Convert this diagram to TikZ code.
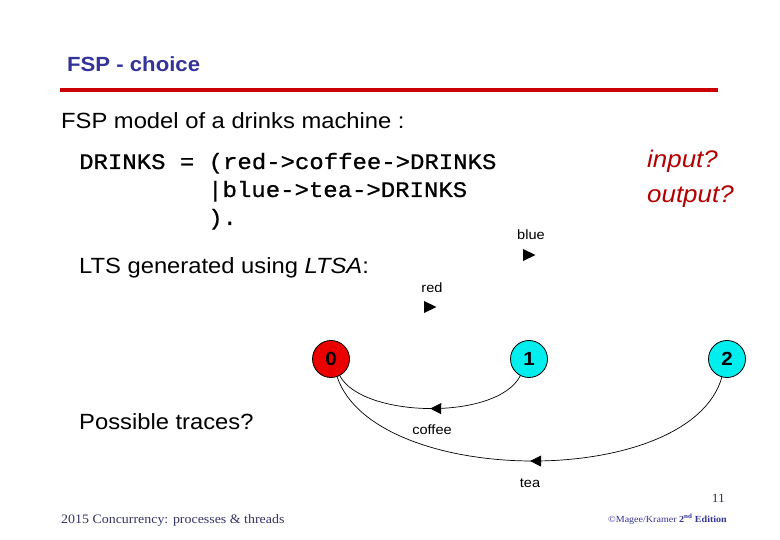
\documentclass[tikz,border=0pt]{standalone}
\usepackage{fontspec}
\setmainfont{Liberation Sans}[FakeStretch=1.08]
\newfontfamily\codefont{Liberation Mono}[FakeStretch=1.08,FakeBold=0.8]
\newfontfamily\timesfont{Liberation Serif}[FakeStretch=1.08]
\usetikzlibrary{arrows.meta,decorations.markings}
\definecolor{titleblue}{RGB}{51,51,153}
\definecolor{rulered}{RGB}{204,0,0}
\definecolor{qred}{RGB}{180,0,0}
\definecolor{footnavy}{RGB}{51,51,102}
\definecolor{nodered}{RGB}{235,0,0}
\definecolor{nodecyan}{RGB}{0,238,238}
\begin{document}
\begin{tikzpicture}[x=1pt,y=-1pt,
  txt/.style={inner sep=0pt,anchor=base west,font=\fontsize{22}{26}\selectfont},
  code/.style={inner sep=0pt,anchor=base west,font=\codefont\fontsize{22.2}{26}\selectfont},
  small/.style={inner sep=0pt,anchor=base,font=\fontsize{13.5}{16}\selectfont},
  state/.style={circle,draw=black,line width=0.8pt,minimum size=37pt,inner sep=0pt,font=\bfseries\fontsize{19}{22}\selectfont},
  trans/.style={line width=0.7pt,postaction={decorate},decoration={markings,mark=at position 0.5 with {\arrow{Triangle[length=11pt,width=11pt]}}}},
  tip/.style={fill=black}]
\useasboundingbox (0,0) rectangle (780,540);
\fill[white] (0,0) rectangle (780,540);

% title and rule
\node[inner sep=0pt,anchor=base west,font=\bfseries\fontsize{20.5}{24}\selectfont,text=titleblue] (title) at (67,71.5) {FSP - choice};
\draw[rulered,line width=4pt] (60,90) -- (718,90);

\node[txt] (intro) at (61,129) {FSP model of a drinks machine :};

% FSP code
\node[code] (c1) at (79,169) {DRINKS = (red->coffee->DRINKS};
\node[code] (c2) at (208,197) {|blue->tea->DRINKS};
\node[code] (c3) at (208,225) {).};

\node[inner sep=0pt,anchor=base west,font=\itshape\fontsize{24}{28}\selectfont,text=qred] (qin) at (647,168) {input?};
\node[inner sep=0pt,anchor=base west,font=\itshape\fontsize{24}{28}\selectfont,text=qred] (qout) at (647,203) {output?};

\node[txt] (lts) at (79,274) {LTS generated using \textit{LTSA}:};
\node[txt] (traces) at (79,429) {Possible traces?};

% LTS
\node[state,fill=nodered] (s0) at (331,359) {0};
\node[state,fill=nodecyan] (s1) at (529,359) {1};
\node[state,fill=nodecyan] (s2) at (727,359) {2};

\node[small] (lblue) at (531,240) {blue};
\fill[tip] (523,249) -- (535.5,255) -- (523,261) -- cycle;
\node[small] (lred) at (432,293) {red};
\fill[tip] (424,301) -- (436.5,307) -- (424,313) -- cycle;

\draw[trans] (s1) .. controls (497,421) and (362,418) .. (s0);
\draw[trans] (s2) .. controls (690,490) and (375,488) .. (s0);
\node[small] (lcoffee) at (432,435) {coffee};
\node[small] (ltea) at (530,487) {tea};

% footer
\node[inner sep=0pt,anchor=base east,font=\timesfont\fontsize{12.5}{15}\selectfont,text=footnavy] (page) at (725,502) {11};
\node[inner sep=0pt,anchor=base west,font=\timesfont\fontsize{12.9}{15}\selectfont,text=footnavy] (foot) at (61,523) {2015 Concurrency: processes \& threads};
\node[inner sep=0pt,anchor=base west,font=\timesfont\fontsize{9.3}{11}\selectfont,text=titleblue] (copy) at (608,522) {©Magee/Kramer \textbf{2\textsuperscript{nd} Edition}};
\end{tikzpicture}
\end{document}
